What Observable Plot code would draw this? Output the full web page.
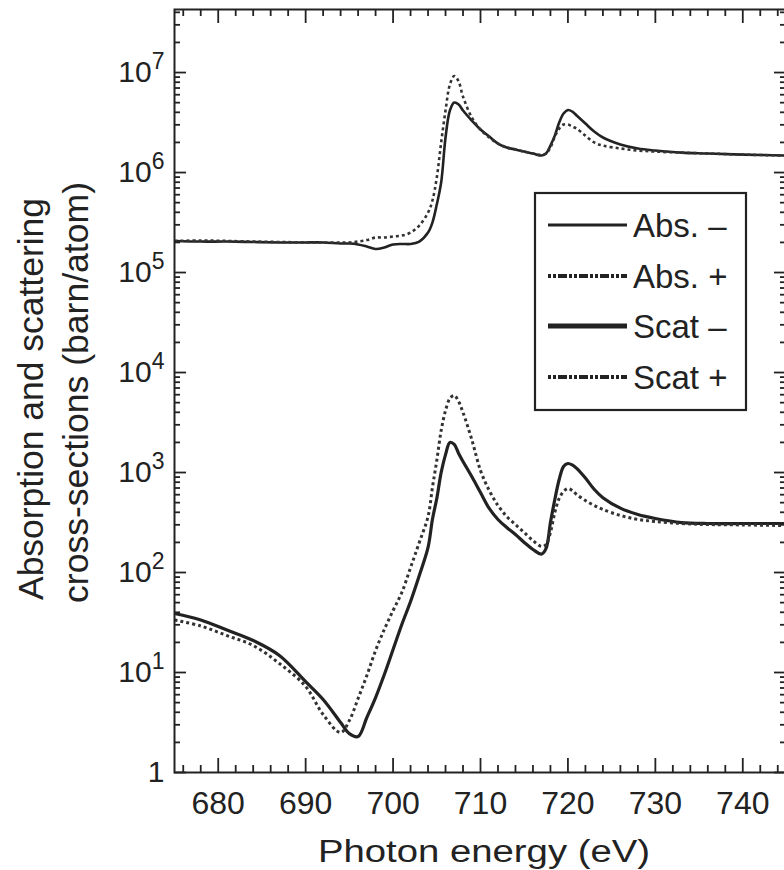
<!DOCTYPE html>
<html><head><meta charset="utf-8">
<script src="https://cdn.jsdelivr.net/npm/d3@7"></script>
<script src="https://cdn.jsdelivr.net/npm/@observablehq/plot@0.6"></script>
<style>
html,body{margin:0;padding:0;background:#fff;overflow:hidden;}
#chart svg{display:block;}
</style>
</head><body><div id="chart"></div>
<script>
// ---- data ----
const energy = [675,678,681,684,687,690,692,694,695,696,697,698,699,700,701,702,703,704,704.5,705,705.5,706,706.5,707,707.5,708,709,710,711,712,713,714,715,716,717,717.5,718,718.5,719,719.5,720,720.5,721,722,723,724,726,728,730,733,736,740,745];
const absMinus = [2.07e5,2.04e5,2.04e5,2.02e5,2.00e5,2.00e5,2.00e5,1.95e5,1.95e5,1.91e5,1.82e5,1.72e5,1.78e5,1.91e5,1.93e5,1.93e5,2.04e5,2.51e5,3.16e5,4.79e5,7.94e5,2.24e6,4.17e6,5.01e6,4.79e6,4.17e6,3.31e6,2.69e6,2.29e6,1.95e6,1.78e6,1.70e6,1.62e6,1.55e6,1.48e6,1.55e6,1.86e6,2.34e6,3.16e6,3.89e6,4.22e6,4.07e6,3.72e6,3.09e6,2.57e6,2.24e6,1.91e6,1.74e6,1.66e6,1.58e6,1.55e6,1.51e6,1.48e6];
const absPlus = [2.07e5,2.09e5,2.07e5,2.04e5,2.02e5,2.00e5,2.00e5,2.00e5,2.00e5,2.04e5,2.11e5,2.24e5,2.24e5,2.29e5,2.34e5,2.51e5,2.95e5,3.98e5,5.25e5,8.91e5,2.00e6,4.17e6,7.59e6,9.23e6,8.13e6,5.75e6,3.55e6,2.69e6,2.24e6,1.95e6,1.78e6,1.70e6,1.62e6,1.55e6,1.50e6,1.55e6,1.78e6,2.29e6,2.75e6,3.02e6,3.02e6,2.88e6,2.75e6,2.34e6,2.00e6,1.86e6,1.74e6,1.66e6,1.62e6,1.58e6,1.55e6,1.51e6,1.48e6];
const scatMinus = [38.9,33.5,26.6,20.9,14.8,8.1,5.37,3.16,2.45,2.29,3.55,5.62,9.55,17.0,30.2,51.3,93.3,178,339,550,1000,1510,2000,1910,1550,1290,912,631,437,339,282,240,200,170,153,174,316,537,851,1150,1230,1190,1100,880,680,560,440,380,347,316,309,309,309];
const scatPlus = [33.5,29.2,23.4,18.6,12.3,7.24,3.80,2.51,3.31,5.50,9.33,16.6,27.0,41.7,63.1,112,200,363,708,1320,2630,4170,5500,5890,5130,3980,2140,1050,661,468,363,302,251,209,182,191,251,398,550,646,692,661,603,525,468,427,372,339,324,309,302,299,295];

const seriesNames = ["Abs. –", "Abs. +", "Scat –", "Scat +"];
const xTickValues = [680, 690, 700, 710, 720, 730, 740];
const yTickValues = [1, 1e1, 1e2, 1e3, 1e4, 1e5, 1e6, 1e7];
const xTitle = "Photon energy (eV)";
const yTitle1 = "Absorption and scattering";
const yTitle2 = "cross-sections (barn/atom)";

// ---- layout & style ----
const W = 784, H = 870, ML = 174, MR = -2, MT = 9, MB = 98;
const PW = W - ML - MR, PH = H - MT - MB;
const INK = "#222";
const FONT = "'Liberation Sans', Arial, Helvetica, sans-serif";
const styles = {
  "Abs. –": {w: 2.6, dash: null, color: INK, legW: 3},
  "Abs. +": {w: 2.6, dash: "3,3", color: "#333", legW: 4, legDash: "3,2,3,2,9,2"},
  "Scat –": {w: 3.2, dash: null, color: INK, legW: 5},
  "Scat +": {w: 3.0, dash: "3,3", color: "#333", legW: 4, legDash: "3,2,3,2,9,2"}
};

const seriesValues = [absMinus, absPlus, scatMinus, scatPlus];
const data = seriesNames.flatMap((name, k) => energy.map((e, i) => ({e, v: seriesValues[k][i], s: name})));

const xMinor = d3.range(676, 745, 2).filter(d => d % 10 !== 0);
const yMinor = [];
for (let p = 0; p <= 7; p++) for (let m = 2; m <= 9; m++) { const v = m * Math.pow(10, p); if (v < 4.27e7) yMinor.push(v); }

const tickStyle = {stroke: INK, strokeWidth: 1.8};

const chart = Plot.plot({
  width: W, height: H,
  marginLeft: ML, marginRight: MR, marginTop: MT, marginBottom: MB,
  style: {fontFamily: FONT, color: INK, background: "#fff", overflow: "hidden"},
  x: {domain: [675, 745]},
  y: {type: "log", domain: [1, 4.27e7]},
  marks: [
    ...seriesNames.map(name => Plot.line(data.filter(d => d.s === name), {
      x: "e", y: "v", stroke: styles[name].color, strokeWidth: styles[name].w,
      strokeDasharray: styles[name].dash, strokeLinecap: "butt", curve: "catmull-rom"
    })),
    // inward ticks: bottom / top
    Plot.tickX(xTickValues, {x: d => d, insetTop: PH - 14, ...tickStyle}),
    Plot.tickX(xTickValues, {x: d => d, insetBottom: PH - 14, ...tickStyle}),
    Plot.tickX(xMinor, {x: d => d, insetTop: PH - 7, ...tickStyle}),
    Plot.tickX(xMinor, {x: d => d, insetBottom: PH - 7, ...tickStyle}),
    // inward ticks: left / right
    Plot.tickY(yTickValues, {y: d => d, insetRight: PW - 12, ...tickStyle}),
    Plot.tickY(yTickValues, {y: d => d, insetLeft: PW - 12, ...tickStyle}),
    Plot.tickY(yMinor, {y: d => d, insetRight: PW - 6, ...tickStyle}),
    Plot.tickY(yMinor, {y: d => d, insetLeft: PW - 6, ...tickStyle}),
    Plot.axisX(xTickValues, {tickSize: 0, tickPadding: 19, fontSize: 32, label: null, fill: INK}),
    Plot.axisY(yTickValues, {tickSize: 0, tickPadding: 10, fontSize: 30, label: null, fill: INK,
      tickFormat: d => d === 1 ? "1" : "10^" + Math.round(Math.log10(d))}),
    Plot.frame({stroke: INK, strokeWidth: 2})
  ]
});

document.getElementById("chart").appendChild(chart);
const svg = d3.select(chart.tagName.toLowerCase() === "svg" ? chart : chart.querySelector("svg"));

// superscript exponents on the y tick labels
svg.selectAll('g[aria-label="y-axis tick label"] text').each(function () {
  const m = this.textContent.match(/^10\^(\d+)$/);
  if (!m) return;
  const t = d3.select(this);
  t.text(null);
  t.append("tspan").text("10");
  t.append("tspan").attr("dy", -13).style("font-size", "23px").text(m[1]);
});

// axis titles
svg.append("text")
  .attr("x", 484).attr("y", 862)
  .attr("text-anchor", "middle")
  .attr("textLength", 332).attr("lengthAdjust", "spacingAndGlyphs")
  .style("font-family", FONT).style("font-size", "31px").attr("fill", INK)
  .text(xTitle);
svg.append("text")
  .attr("transform", "translate(43,399) rotate(-90)")
  .attr("text-anchor", "middle")
  .attr("textLength", 402).attr("lengthAdjust", "spacingAndGlyphs")
  .style("font-family", FONT).style("font-size", "35px").attr("fill", INK)
  .text(yTitle1);
svg.append("text")
  .attr("transform", "translate(88,392.5) rotate(-90)")
  .attr("text-anchor", "middle")
  .attr("textLength", 421).attr("lengthAdjust", "spacingAndGlyphs")
  .style("font-family", FONT).style("font-size", "35px").attr("fill", INK)
  .text(yTitle2);

// legend
const leg = svg.append("g").attr("aria-label", "legend");
leg.append("rect").attr("x", 535).attr("y", 193).attr("width", 211).attr("height", 217)
  .attr("fill", "#fff").attr("stroke", INK).attr("stroke-width", 2.2);
const rowY = [225, 276, 326, 377];
seriesNames.forEach((name, i) => {
  const st = styles[name];
  leg.append("line").attr("x1", 548).attr("x2", 627).attr("y1", rowY[i]).attr("y2", rowY[i])
    .attr("stroke", INK).attr("stroke-width", st.legW).attr("stroke-linecap", "butt")
    .attr("stroke-dasharray", st.legDash || null);
  leg.append("text").attr("x", 633).attr("y", rowY[i]).attr("dy", "0.36em")
    .attr("text-anchor", "start")
    .style("font-family", FONT).style("font-size", "33px").attr("fill", INK)
    .text(name);
});
</script>
</body></html>
